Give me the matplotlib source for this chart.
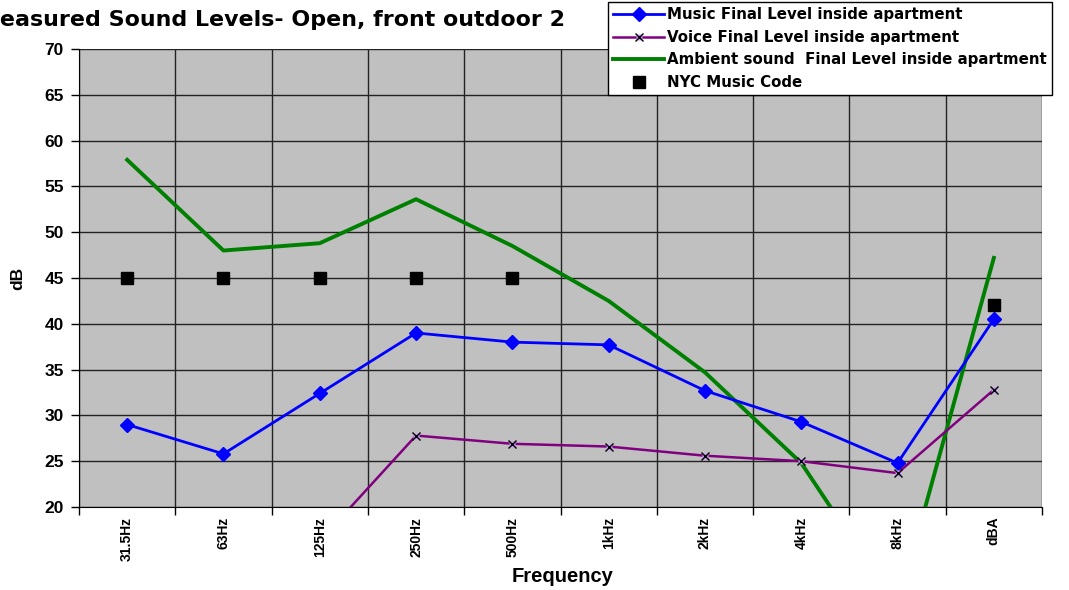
import numpy as np
import matplotlib.pyplot as plt
from matplotlib.lines import Line2D

plt.rcParams['font.family'] = ['Liberation Sans', 'DejaVu Sans']
plt.rcParams['font.weight'] = 'bold'

categories = ['31.5Hz', '63Hz', '125Hz', '250Hz', '500Hz', '1kHz', '2kHz', '4kHz', '8kHz', 'dBA']
music = [29.0, 25.8, 32.4, 39.0, 38.0, 37.7, 32.7, 29.3, 24.8, 40.5]
voice = [14.0, 12.0, 16.3, 27.8, 26.9, 26.6, 25.6, 25.0, 23.7, 32.8]
ambient = [57.9, 48.0, 48.8, 53.6, 48.5, 42.5, 34.7, 24.8, 9.0, 47.2]
nyc_code = [45, 45, 45, 45, 45, np.nan, np.nan, np.nan, np.nan, 42]

x = np.arange(len(categories))

fig = plt.figure(figsize=(10.69, 5.9), dpi=100)
ax = fig.add_axes([79 / 1069, 1 - 507 / 590, 963 / 1069, 458 / 590])
ax.set_facecolor('#C0C0C0')

ax.plot(x, ambient, color='#008000', linewidth=2.8, zorder=3)
ax.plot(x, music, color='#0000FF', linewidth=2.0, marker='D', markersize=7,
        markerfacecolor='#0000FF', markeredgecolor='#0000FF', zorder=4)
ax.plot(x, voice, color='#800080', linewidth=1.8, marker='s', markersize=5,
        markerfacecolor='#CC99FF', markeredgecolor='none', zorder=4)
ax.plot(x, voice, linestyle='none', marker='x', markersize=6,
        markeredgecolor='black', markeredgewidth=1.0, zorder=4)
ax.plot(x, nyc_code, linestyle='none', marker='s', markersize=8,
        color='black', zorder=5)

ax.set_xlim(-0.5, len(categories) - 0.5)
ax.set_ylim(20, 70)
ax.set_yticks(np.arange(20, 71, 5))
ax.tick_params(axis='y', labelsize=12.5, length=6, width=1, pad=5)
for t in ax.get_yticklabels():
    t.set_fontweight('bold')

ax.set_xticks(np.arange(-0.5, len(categories)), labels=[''] * (len(categories) + 1))
ax.set_xticks(x, labels=categories, minor=True)
ax.tick_params(axis='x', which='major', length=6, width=1)
ax.tick_params(axis='x', which='minor', length=0, labelsize=10, labelrotation=90, pad=7)
for t in ax.get_xticklabels(minor=True):
    t.set_fontweight('bold')

ax.grid(True, which='major', color='#222222', linewidth=1.0)
ax.set_axisbelow(True)
for side in ['top', 'right']:
    ax.spines[side].set_visible(False)

fig.text(18 / 1069, 1 - 278 / 590, 'dB', rotation=90, ha='center', va='center',
         fontsize=12.5, fontweight='bold')
fig.text(563 / 1069, 1 - 576 / 590, 'Frequency', ha='center', va='center',
         fontsize=14.5, fontweight='bold')
# title runs off the left edge, as in the original
fig.text(565 / 1069, 1 - 20 / 590, 'Measured Sound Levels- Open, front outdoor 2',
         ha='right', va='center', fontsize=15.9, fontweight='bold',
         family=['DejaVu Sans'])

voice_handle = (Line2D([], [], color='#800080', linewidth=1.8, marker='s', markersize=5,
                       markerfacecolor='#CC99FF', markeredgecolor='none'),
                Line2D([], [], linestyle='none', marker='x', markersize=6,
                       markeredgecolor='black', markeredgewidth=1.0))
handles = [
    Line2D([], [], color='#0000FF', linewidth=2.0, marker='D', markersize=7),
    voice_handle,
    Line2D([], [], color='#008000', linewidth=2.8),
    Line2D([], [], linestyle='none', marker='s', markersize=8, color='black'),
]
labels = ['Music Final Level inside apartment',
          'Voice Final Level inside apartment',
          'Ambient sound  Final Level inside apartment',
          'NYC Music Code']
leg = fig.legend(handles, labels, loc='upper left',
                 bbox_to_anchor=(608 / 1069, 1 - 2 / 590),
                 frameon=True, fancybox=False, edgecolor='black', framealpha=1,
                 prop={'size': 10.8, 'weight': 'bold', 'family': 'DejaVu Sans'},
                 handlelength=3.4, handletextpad=0.2, labelspacing=0.5,
                 borderpad=0.35, borderaxespad=0)
leg.get_frame().set_linewidth(1.0)

fig.savefig('out.png', dpi=100)
